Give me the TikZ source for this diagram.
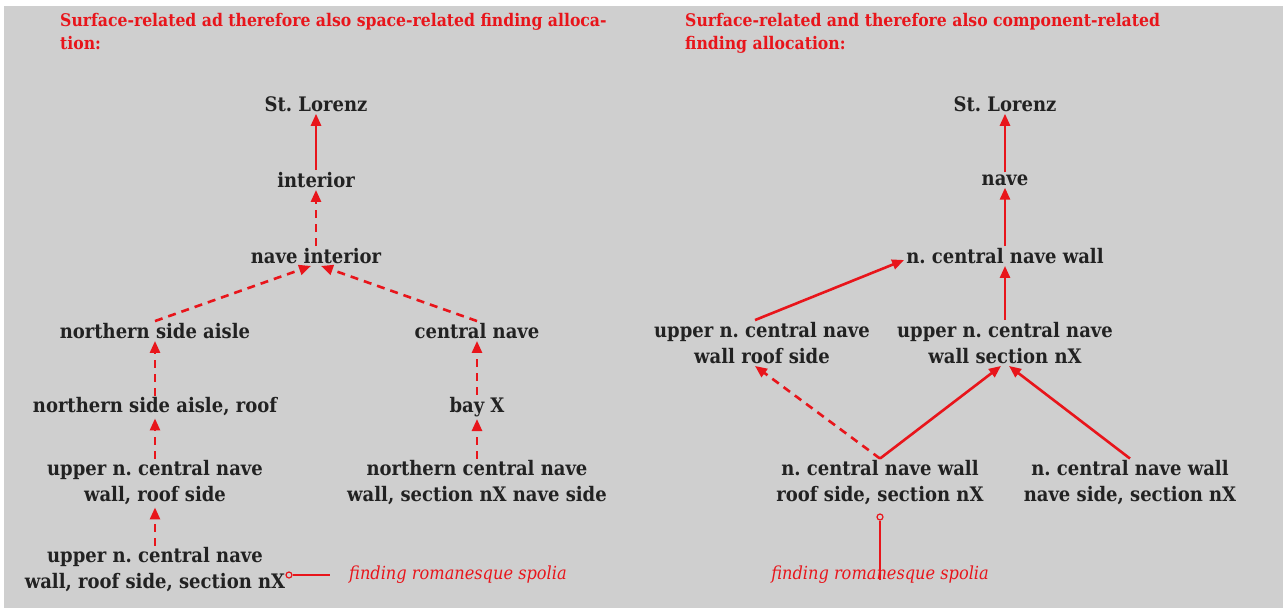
\documentclass[tikz,border=0pt]{standalone}
\usepackage{fontspec}
\setmainfont{DejaVu Serif Condensed}
\usetikzlibrary{arrows.meta}
\definecolor{bggray}{HTML}{CFCFCF}
\definecolor{findred}{HTML}{E8151B}
\definecolor{inkdark}{HTML}{222222}

\newcommand{\picw}{1283}
\newcommand{\pich}{608}

\begin{document}
\frenchspacing
\begin{tikzpicture}[x=1pt,y=-1pt,
    item/.style={font=\bfseries\fontsize{20}{26}\selectfont, text=inkdark, align=center, inner sep=2pt},
    heading/.style={font=\bfseries\fontsize{17.4}{23}\selectfont, text=findred, align=left, anchor=north west, inner sep=0pt},
    finding/.style={font=\itshape\fontsize{18}{22}\selectfont, text=findred, inner sep=0pt},
    pin/.style={circle, draw=findred, line width=1.2pt, inner sep=0pt, minimum size=6pt},
    pinline/.style={draw=findred, line width=1.2pt},
    link/.style={draw=findred, line width=2.6pt, -{Triangle[length=12pt,width=10pt]}},
    linkdash/.style={link, dash pattern=on 8pt off 6pt}]
  % background
  \fill[white] (0,0) rectangle (\picw,\pich);
  \fill[bggray] (4,6) rectangle (\picw,\pich);

  % left tree: space-related
  \node[heading] (headL) at (60,13) {Surface-related ad therefore also space-related finding alloca-\\tion:};
  \node[item] (lorL) at (316,104) {St. Lorenz};
  \node[item] (intL) at (316,180) {interior};
  \node[item] (navint) at (316,256) {nave interior};
  \node[item] (nsa) at (155,331) {northern side aisle};
  \node[item] (cnave) at (477,331) {central nave};
  \node[item] (nsaroof) at (155,407) {northern side aisle, roof};
  \node[item] (bayx) at (477,407) {bay X};
  \node[item] (uwrs) at (155,483) {upper n. central nave\\wall, roof side};
  \node[item] (ncwns) at (477,483) {northern central nave\\wall, section nX nave side};
  \node[item] (uwrsx) at (155,570) {upper n. central nave\\wall, roof side, section nX};

  \draw[link] (intL) -- (lorL);
  \draw[linkdash] (navint) -- (intL);
  \draw[linkdash] (nsa.north) -- ([xshift=-5]navint.south);
  \draw[linkdash] (cnave.north) -- ([xshift=5]navint.south);
  \draw[linkdash] (nsaroof) -- (nsa);
  \draw[linkdash] (uwrs) -- (nsaroof);
  \draw[linkdash] (uwrsx) -- (uwrs);
  \draw[linkdash] (ncwns) -- (bayx);
  \draw[linkdash] (bayx) -- (cnave);

  \node[pin] (pinL) at (289,575) {};
  \node[finding, anchor=west] (spolL) at (349,575) {finding romanesque spolia};
  \draw[pinline] (pinL) -- ([xshift=-19]spolL.west);

  % right tree: component-related
  \node[heading] (headR) at (685,13) {Surface-related and therefore also component-related\\finding allocation:};
  \node[item] (lorR) at (1005,104) {St. Lorenz};
  \node[item] (naveR) at (1005,180) {nave};
  \node[item] (ncw) at (1005,256) {n. central nave wall};
  \node[item] (uwroof) at (762,343) {upper n. central nave\\wall roof side};
  \node[item] (uwsec) at (1005,343) {upper n. central nave\\wall section nX};
  \node[item] (ncwroof) at (880,483) {n. central nave wall\\roof side, section nX};
  \node[item] (ncwnave) at (1130,483) {n. central nave wall\\nave side, section nX};

  \draw[link] (naveR) -- (lorR);
  \draw[link] (ncw) -- (naveR);
  \draw[link] (uwsec) -- (ncw);
  \draw[link] ([xshift=-7]uwroof.north) -- ([yshift=-4]ncw.west);
  \draw[linkdash] (ncwroof.north) -- ([xshift=-7]uwroof.south);
  \draw[link] (ncwroof.north) -- ([xshift=-4]uwsec.south);
  \draw[link] (ncwnave.north) -- ([xshift=4]uwsec.south);

  \node[pin] (pinR) at (880,517) {};
  \node[finding] (spolR) at (880,575) {finding romanesque spolia};
  \draw[pinline] (pinR) -- ([yshift=-14]spolR.north);
\end{tikzpicture}
\end{document}
